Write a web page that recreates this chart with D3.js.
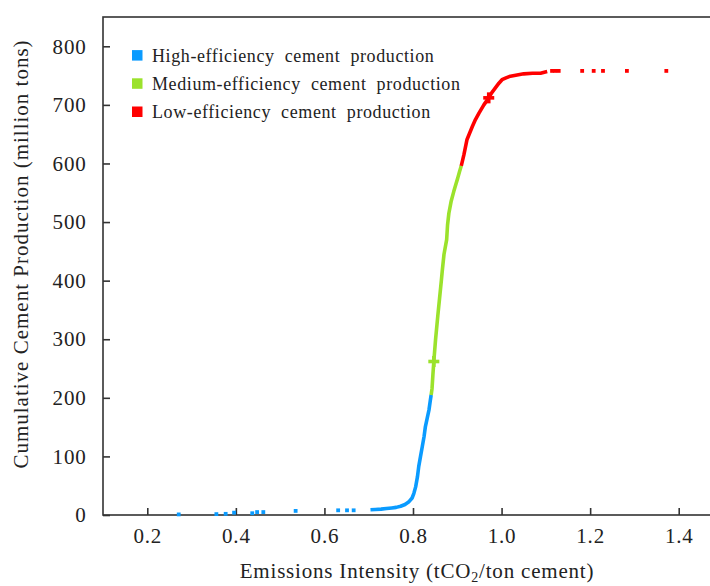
<!DOCTYPE html>
<html>
<head>
<meta charset="utf-8">
<script src="https://cdn.jsdelivr.net/npm/d3@7"></script>
<style>
  body { margin: 0; background: #fff; }
  svg text { font-family: "Liberation Serif", "Times New Roman", serif; fill: #222; }
  .axis path, .axis line { stroke: #333; stroke-width: 1.6; }
</style>
</head>
<body>
<div id="canvas"></div>
<script>
// values: [emissions intensity, cumulative production]
var blueSparse = [[0.271,1],[0.356,1.5],[0.377,2],[0.396,4],[0.437,3],[0.448,5],[0.462,5],
    [0.535,7],[0.631,8],[0.651,8],[0.666,8]];
var blueCurve = [[0.704,9],[0.715,9.5],[0.728,10],[0.740,11],[0.752,12],[0.762,13],[0.772,15],
    [0.782,18],[0.790,22],[0.798,29],[0.802,37],[0.806,48],[0.810,65],[0.813,83],[0.817,100],
    [0.821,117],[0.825,134],[0.828,151],[0.832,165],[0.836,179],[0.839,195],[0.841,205]];
var greenCurve = [[0.841,205],[0.843,216],[0.845,240],[0.847,262],[0.851,300],[0.856,340],
    [0.860,370],[0.864,400],[0.866,416],[0.870,445],[0.876,470],[0.878,495],[0.881,515],
    [0.886,535],[0.892,552],[0.897,565],[0.901,575],[0.905,586],[0.909,596]];
var redCurve = [[0.909,596],[0.915,615],[0.922,641],[0.928,652],[0.934,663],[0.941,675],
    [0.949,686],[0.960,700],[0.971,712],[0.978,721],[0.986,729],[0.994,737],[1.001,743],
    [1.010,746],[1.020,749],[1.035,751],[1.050,753],[1.070,754],[1.088,754],[1.103,757]];
var redSparse = [[1.114,758],[1.121,758],[1.129,758],[1.182,758],[1.208,758],[1.229,758],
    [1.283,758],[1.372,758]];
// the two "+" marks on the curve
var crossMarks = [[0.847,262,'medium'],[0.971,712,'low']];

var classes = ['high', 'medium', 'low'];
var legendLabels = ['High-efficiency cement production', 'Medium-efficiency cement production',
    'Low-efficiency cement production'];
var classColors = {high: '#0a9bff', medium: '#9be22c', low: '#ff0000'};
var xTicks = [0.2, 0.4, 0.6, 0.8, 1.0, 1.2, 1.4];
var yTicks = [0, 100, 200, 300, 400, 500, 600, 700, 800];

var W = 710, H = 586;
var svg = d3.select('#canvas').append('svg').attr('width', W).attr('height', H);

//scales. the frame runs past the right edge of the picture
var x = d3.scaleLinear().domain([0.1, 1.5]).range([103, 723]);
var y = d3.scaleLinear().domain([0, 850]).range([515, 17]);

//frame
svg.append('rect').attr('x', x(0.1)).attr('y', y(850))
    .attr('width', x(1.5) - x(0.1)).attr('height', y(0) - y(850))
    .attr('fill', 'none').attr('stroke', '#333').attr('stroke-width', 1.6);

//axes with inward ticks
var gx = svg.append('g').attr('class', 'x axis').attr('transform', 'translate(0,' + y(0) + ')')
    .call(d3.axisBottom(x).tickValues(xTicks).tickFormat(d3.format('.1f'))
        .tickSizeInner(-7).tickSizeOuter(0).tickPadding(13));
var gy = svg.append('g').attr('class', 'y axis').attr('transform', 'translate(' + x(0.1) + ',0)')
    .call(d3.axisLeft(y).tickValues(yTicks).tickFormat(d3.format('d'))
        .tickSizeInner(-7).tickSizeOuter(0).tickPadding(16.5));
svg.selectAll('.axis text').style('font-size', '21px').style('letter-spacing', '0.8px')
    .attr('fill', '#222')
    .style('font-family', '"Liberation Serif", "Times New Roman", serif');
svg.selectAll('.axis .domain').remove();

//curve segments, drawn as thick traces of closely packed points
var line = d3.line().x(function(d){ return x(d[0]); }).y(function(d){ return y(d[1]); });
var curves = [[blueCurve, 'high'], [greenCurve, 'medium'], [redCurve, 'low']];
svg.append('g').selectAll('path').data(curves).enter().append('path')
    .attr('d', function(d){ return line(d[0]); })
    .attr('fill', 'none').attr('stroke', function(d){ return classColors[d[1]]; })
    .attr('stroke-width', 3.6).attr('stroke-linejoin', 'round');

//isolated points
var sparse = blueSparse.map(function(d){ return [d[0], d[1], 'high']; })
    .concat(redSparse.map(function(d){ return [d[0], d[1], 'low']; }));
var s = 3.8;
svg.append('g').selectAll('rect').data(sparse).enter().append('rect')
    .attr('x', function(d){ return x(d[0]) - s / 2; })
    .attr('y', function(d){ return y(d[1]) - s / 2; })
    .attr('width', s).attr('height', s)
    .attr('fill', function(d){ return classColors[d[2]]; });

//plus marks
var cg = svg.append('g').selectAll('g').data(crossMarks).enter().append('g')
    .attr('transform', function(d){ return 'translate(' + x(d[0]) + ',' + y(d[1]) + ')'; });
cg.append('rect').attr('x', -5.5).attr('y', -1.8).attr('width', 11).attr('height', 3.6)
    .attr('fill', function(d){ return classColors[d[2]]; });
cg.append('rect').attr('x', -1.8).attr('y', -5.5).attr('width', 3.6).attr('height', 11)
    .attr('fill', function(d){ return classColors[d[2]]; });

//legend
var lg = svg.append('g').selectAll('g').data(classes).enter().append('g')
    .attr('transform', function(d, i){ return 'translate(132,' + (55.3 + i * 28.2) + ')'; });
lg.append('rect').attr('x', 0).attr('y', -5.2).attr('width', 10.5).attr('height', 10.5)
    .attr('fill', function(d){ return classColors[d]; });
lg.append('text').attr('x', 20).attr('dy', '0.35em')
    .style('font-size', '18px').style('word-spacing', '5px').style('letter-spacing', '0.6px')
    .text(function(d, i){ return legendLabels[i]; });

//axis titles
var xt = svg.append('text').attr('x', 417).attr('y', 578).attr('text-anchor', 'middle')
    .style('font-size', '21px').style('letter-spacing', '0.8px');
xt.append('tspan').text('Emissions Intensity (tCO');
xt.append('tspan').attr('dy', 4).style('font-size', '14px').text('2');
xt.append('tspan').attr('dy', -4).text('/ton cement)');

svg.append('text').attr('transform', 'translate(28,254) rotate(-90)')
    .attr('text-anchor', 'middle').style('font-size', '21px').style('letter-spacing', '1px')
    .text('Cumulative Cement Production (million tons)');
</script>
</body>
</html>
